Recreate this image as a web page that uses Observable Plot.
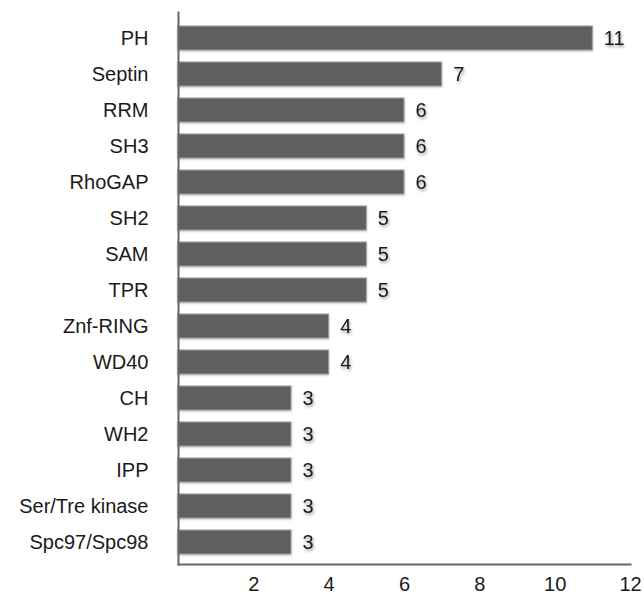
<!DOCTYPE html>
<html><head>
<meta charset="utf-8">
<script src="https://cdn.jsdelivr.net/npm/d3@7"></script>
<script src="https://cdn.jsdelivr.net/npm/@observablehq/plot@0.6"></script>
<style>
body{margin:0;background:#fff;}
g[aria-label="text"] text { filter: drop-shadow(1px 2px 1.5px rgba(0,0,0,0.4)); }
g[aria-label="bar"] { filter: drop-shadow(0px 1px 1px rgba(0,0,0,0.25)); }
</style>
</head><body><div id="chart"></div>
<script>
const domains = ["PH","Septin","RRM","SH3","RhoGAP","SH2","SAM","TPR","Znf-RING","WD40","CH","WH2","IPP","Ser/Tre kinase","Spc97/Spc98"];
const counts = [11,7,6,6,6,5,5,5,4,4,3,3,3,3,3];
const xTicks = [2,4,6,8,10,12];
const data = domains.map((d,i)=>({domain:d,count:counts[i]}));
const chart = Plot.plot({
  width:644, height:599, marginLeft:178, marginRight:14, marginTop:12, marginBottom:35,
  style:{fontFamily:"'Liberation Sans', Arial, Helvetica, sans-serif", fontSize:"20px", color:"#1a1a1a", background:"#fff"},
  x:{domain:[0,12]},
  y:{domain:domains, paddingInner:0.337, paddingOuter:0.29, align:0.57},
  marks:[
    Plot.barX(data,{x:"count", y:"domain", fill:"#5f5f5f", stroke:"#a0a0a0", strokeWidth:1}),
    Plot.text(data,{x:"count", y:"domain", text:d=>String(d.count), textAnchor:"start", dx:11, fill:"#1a1a1a", fontSize:20}),
    Plot.axisX({ticks:xTicks, tickSize:0, tickPadding:12, fontSize:20, label:null}),
    Plot.axisY({tickSize:0, tickPadding:30, fontSize:20, label:null}),
    Plot.frame({anchor:"left", stroke:"#666", strokeWidth:2}),
    Plot.frame({anchor:"bottom", stroke:"#666", strokeWidth:2})
  ]
});
document.getElementById("chart").append(chart);
</script>
</body></html>
